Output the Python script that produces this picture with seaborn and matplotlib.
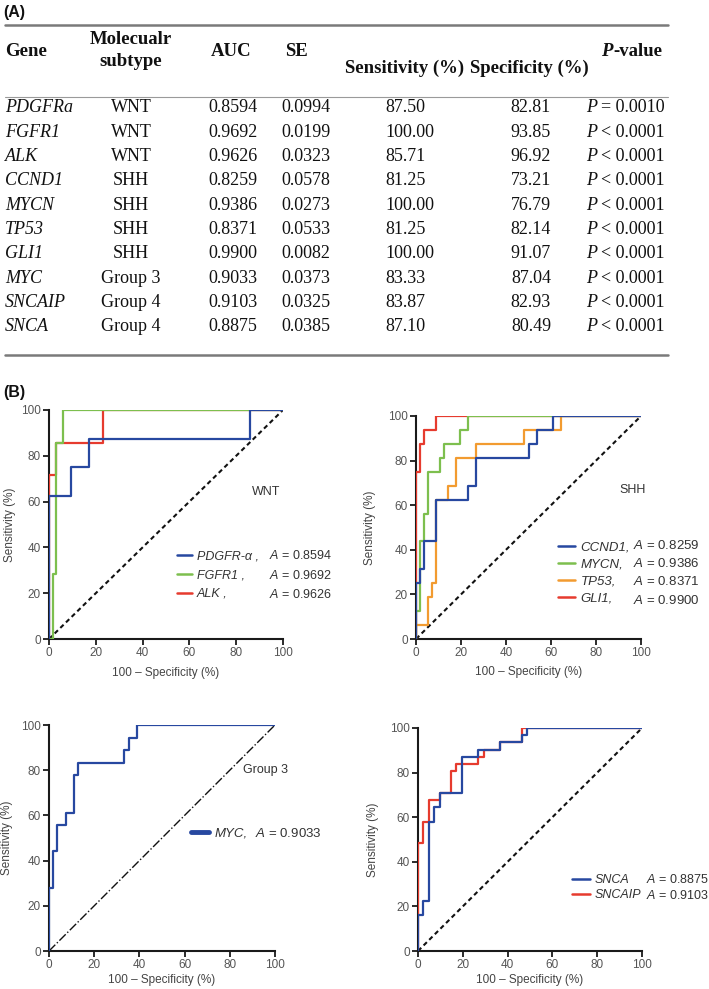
import seaborn as sns
import matplotlib.pyplot as plt
from matplotlib.lines import Line2D

# ---- (A) table values ----
genes = ['PDGFRa', 'FGFR1', 'ALK', 'CCND1', 'MYCN', 'TP53', 'GLI1', 'MYC', 'SNCAIP', 'SNCA']
subtypes = ['WNT', 'WNT', 'WNT', 'SHH', 'SHH', 'SHH', 'SHH', 'Group 3', 'Group 4', 'Group 4']
auc = ['0.8594', '0.9692', '0.9626', '0.8259', '0.9386', '0.8371', '0.9900', '0.9033', '0.9103', '0.8875']
se = ['0.0994', '0.0199', '0.0323', '0.0578', '0.0273', '0.0533', '0.0082', '0.0373', '0.0325', '0.0385']
sens = ['87.50', '100.00', '85.71', '81.25', '100.00', '81.25', '100.00', '83.33', '83.87', '87.10']
spec = ['82.81', '93.85', '96.92', '73.21', '76.79', '82.14', '91.07', '87.04', '82.93', '80.49']
p_text = ['= 0.0010'] + ['< 0.0001'] * 9

# ---- (B) ROC operating points: 100 - specificity (%), sensitivity (%) ----
pdgfra_fpr = [0, 0, 9.38, 17.19, 85.94, 100]
pdgfra_tpr = [0, 62.5, 75, 87.5, 100, 100]
fgfr1_fpr = [0, 1.54, 3.08, 6.15, 100]
fgfr1_tpr = [0, 28.57, 85.71, 100, 100]
alk_fpr = [0, 0, 3.08, 23.08, 100]
alk_tpr = [0, 71.43, 85.71, 100, 100]

ccnd1_fpr = [0, 0, 1.79, 3.57, 8.93, 23.21, 26.79, 50.0, 53.57, 60.71, 100]
ccnd1_tpr = [0, 25, 31.25, 43.75, 62.5, 68.75, 81.25, 87.5, 93.75, 100, 100]
mycn_fpr = [0, 0, 1.79, 3.57, 5.36, 10.71, 12.5, 19.64, 23.21, 100]
mycn_tpr = [0, 12.5, 43.75, 56.25, 75, 81.25, 87.5, 93.75, 100, 100]
tp53_fpr = [0, 0, 5.36, 7.14, 8.93, 14.29, 17.86, 26.79, 48.21, 64.29, 100]
tp53_tpr = [0, 6.25, 18.75, 25, 62.5, 68.75, 81.25, 87.5, 93.75, 100, 100]
gli1_fpr = [0, 0, 1.79, 3.57, 8.93, 100]
gli1_tpr = [0, 75, 87.5, 93.75, 100, 100]

myc_fpr = [0, 0, 1.85, 3.70, 7.41, 11.11, 12.96, 33.33, 35.19, 38.89, 100]
myc_tpr = [0, 27.78, 44.44, 55.56, 61.11, 77.78, 83.33, 88.89, 94.44, 100, 100]

snca_fpr = [0, 0, 2.44, 4.88, 7.32, 9.76, 19.51, 26.83, 36.59, 46.34, 48.78, 100]
snca_tpr = [0, 16.13, 22.58, 58.06, 64.52, 70.97, 87.10, 90.32, 93.55, 96.77, 100, 100]
sncaip_fpr = [0, 0, 2.44, 4.88, 9.76, 14.63, 17.07, 26.83, 29.27, 36.59, 46.34, 100]
sncaip_tpr = [0, 48.39, 58.06, 67.74, 70.97, 80.65, 83.87, 87.10, 90.32, 93.55, 100, 100]

ticks = [0, 20, 40, 60, 80, 100]

BLUE, GREEN, RED, ORANGE = '#2748a0', '#7dbf4e', '#e63b2e', '#f29b30'

sns.set_theme(style='ticks')
plt.rcParams['font.family'] = ['Liberation Sans', 'DejaVu Sans']
plt.rcParams['mathtext.fontset'] = 'custom'
plt.rcParams['mathtext.rm'] = 'Liberation Sans'
plt.rcParams['mathtext.it'] = 'Liberation Sans:italic'

fig = plt.figure(figsize=(7.09, 9.89), dpi=100)

# ---- table drawn in pixel space ----
tab = fig.add_axes([0, 0, 1, 1])
tab.set_xlim(0, 709)
tab.set_ylim(989, 0)
tab.axis('off')

serif = 'Liberation Serif'
hdr = dict(family=serif, fontweight='bold', size=13.5, va='center', color='#111')
tab.text(3, 13, '(A)', fontweight='bold', size=11.5, va='center', color='#111')
tab.plot([5, 668], [25, 25], color='#7a7a7a', lw=1.8)
tab.text(5, 52, 'Gene', ha='left', **hdr)
tab.text(131, 40, 'Molecualr', ha='center', **hdr)
tab.text(131, 61, 'subtype', ha='center', **hdr)
tab.text(231, 52, 'AUC', ha='center', **hdr)
tab.text(296, 52, 'SE', ha='center', **hdr)
tab.text(405, 68, 'Sensitivity (%)', ha='center', **hdr)
tab.text(529, 68, 'Specificity (%)', ha='center', **hdr)
pv = tab.text(662, 52, '-value', ha='right', **hdr)
tab.annotate('P', xy=(0, 0.5), xycoords=pv, ha='right', va='center', family=serif,
             fontweight='bold', fontstyle='italic', size=13.5, color='#111')
tab.plot([5, 668], [97, 97], color='#9a9a9a', lw=0.8)

cell = dict(family=serif, size=13, va='center', color='#111')
for i, g in enumerate(genes):
    y = 108 + i * 24.3
    tab.text(5, y, g, ha='left', fontstyle='italic', **cell)
    tab.text(131, y, subtypes[i], ha='center', **cell)
    tab.text(208, y, auc[i], ha='left', **cell)
    tab.text(281, y, se[i], ha='left', **cell)
    tab.text(385, y, sens[i], ha='left', **cell)
    tab.text(551, y, spec[i], ha='right', **cell)
    pt = tab.text(665, y, p_text[i], ha='right', **cell)
    tab.annotate('P', xy=(0, 0.5), xycoords=pt, xytext=(-3, 0), textcoords='offset points',
                 ha='right', fontstyle='italic', **cell)
tab.plot([5, 668], [355, 355], color='#7a7a7a', lw=1.8)
tab.text(3, 393, '(B)', fontweight='bold', size=11.5, va='center', color='#111')


def roc_axes(rect, curves, diag_ls, diag_lw, ylab_x, xlab_y):
    ax = fig.add_axes(rect)
    sns.lineplot(x=[0, 100], y=[0, 100], ax=ax, color='#111', lw=diag_lw, linestyle=diag_ls, zorder=1)
    for fpr, tpr, color in curves[::-1]:
        sns.lineplot(x=fpr, y=tpr, ax=ax, color=color, lw=1.6, sort=False, estimator=None,
                     drawstyle='steps-post', zorder=3)
    ax.set_xlim(0, 100)
    ax.set_ylim(0, 100)
    ax.set_xticks(ticks)
    ax.set_yticks(ticks)
    sns.despine(ax=ax)
    for s in ('left', 'bottom'):
        ax.spines[s].set_linewidth(1.5)
        ax.spines[s].set_color('#1a1a1a')
    ax.tick_params(direction='out', length=4, width=1.3, color='#1a1a1a',
                   labelcolor='#555555', labelsize=8.5, pad=2)
    ax.set_ylabel('Sensitivity (%)', fontsize=8.5, color='#444444')
    ax.set_xlabel('100 – Specificity (%)', fontsize=8.5, color='#444444')
    ax.yaxis.set_label_coords(ylab_x, 0.5)
    ax.xaxis.set_label_coords(0.5, xlab_y)
    return ax


def add_legend(ax, colors, names, a_vals, x_line, x_a, y_mid, size, spacing, hlen, lw=1.8):
    handles = [Line2D([], [], color=c, lw=lw) for c in colors]
    common = dict(loc='center left', frameon=False, borderaxespad=0, borderpad=0,
                  labelspacing=spacing, labelcolor='#333333')
    leg = ax.legend(handles, names, bbox_to_anchor=(x_line, y_mid), handlelength=hlen,
                    handletextpad=0.4,
                    prop={'family': 'Liberation Sans', 'style': 'italic', 'size': size}, **common)
    ax.add_artist(leg)
    blanks = [Line2D([], [], lw=0) for _ in names]
    ax.legend(blanks, [rf'$\mathit{{A}}$ = {v}' for v in a_vals], bbox_to_anchor=(x_a, y_mid),
              handlelength=0, handletextpad=0, prop={'size': size}, **common)


ax1 = roc_axes([49 / 709, 1 - 639 / 989, 234 / 709, 229 / 989],
               [(pdgfra_fpr, pdgfra_tpr, BLUE), (fgfr1_fpr, fgfr1_tpr, GREEN), (alk_fpr, alk_tpr, RED)],
               (0, (2.2, 1.6)), 1.5, -0.14, -0.122)
add_legend(ax1, [BLUE, GREEN, RED], ['PDGFR-α ,', 'FGFR1 ,', 'ALK ,'], auc[0:3],
           0.547, 0.94, 0.279, 9, 0.55, 1.2)
ax1.text(0.927, 0.642, 'WNT', transform=ax1.transAxes, ha='center', va='center', size=9, color='#333')

ax2 = roc_axes([416 / 709, 1 - 639 / 989, 225 / 709, 223 / 989],
               [(ccnd1_fpr, ccnd1_tpr, BLUE), (mycn_fpr, mycn_tpr, GREEN),
                (tp53_fpr, tp53_tpr, ORANGE), (gli1_fpr, gli1_tpr, RED)],
               (0, (2.2, 1.6)), 1.5, -0.178, -0.121)
add_legend(ax2, [BLUE, GREEN, ORANGE, RED], ['CCND1,', 'MYCN,', 'TP53,', 'GLI1,'], auc[3:7],
           0.631, 0.964, 0.296, 9.5, 0.38, 1.3)
ax2.text(0.964, 0.668, 'SHH', transform=ax2.transAxes, ha='center', va='center', size=9, color='#333')

ax3 = roc_axes([49 / 709, 1 - 951 / 989, 226 / 709, 226 / 989],
               [(myc_fpr, myc_tpr, BLUE)],
               '-.', 1.0, -0.159, -0.102)
add_legend(ax3, [BLUE], ['MYC,'], auc[7:8], 0.628, 0.912, 0.522, 9.5, 0.4, 1.4, lw=3.5)
ax3.text(0.956, 0.801, 'Group 3', transform=ax3.transAxes, ha='center', va='center', size=9, color='#333')

ax4 = roc_axes([418 / 709, 1 - 951 / 989, 224 / 709, 223 / 989],
               [(snca_fpr, snca_tpr, BLUE), (sncaip_fpr, sncaip_tpr, RED)],
               (0, (2.2, 1.6)), 1.5, -0.174, -0.103)
add_legend(ax4, [BLUE, RED], ['SNCA', 'SNCAIP'], [auc[9], auc[8]], 0.6875, 1.018, 0.285, 9, 0.25, 1.4)

fig.savefig('out.png', dpi=100)
